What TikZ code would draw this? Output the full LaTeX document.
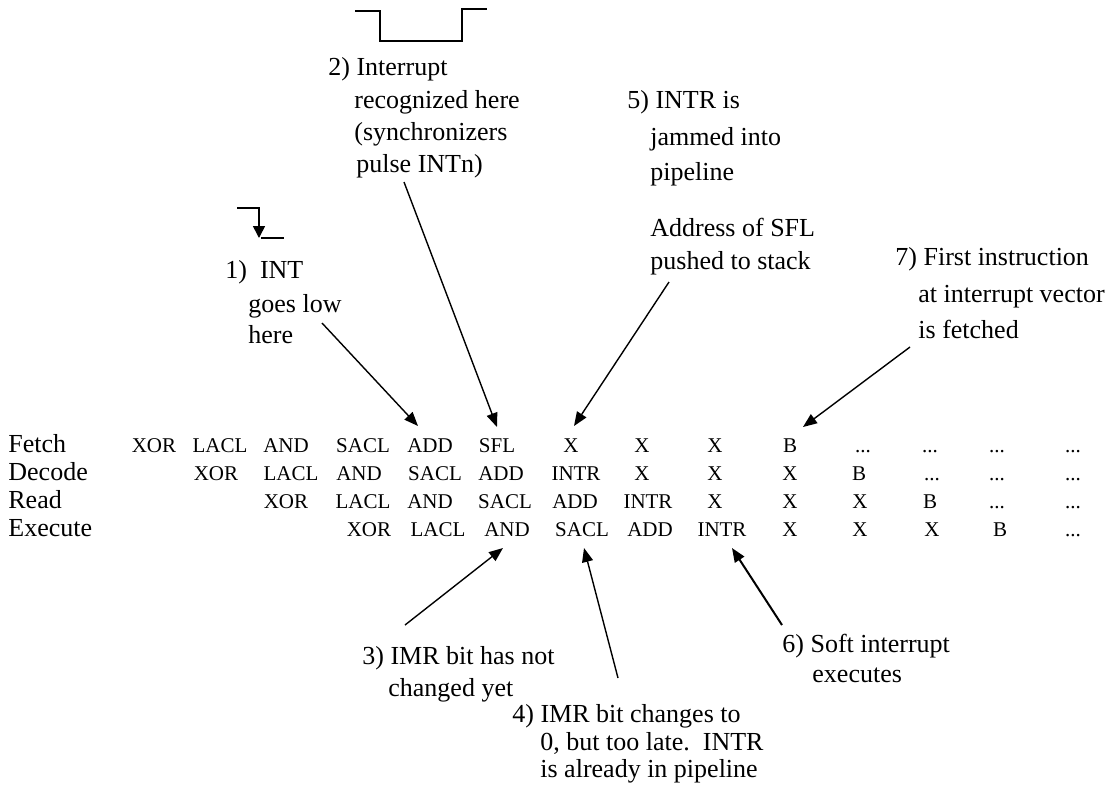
\documentclass[tikz,border=0pt]{standalone}
\usepackage{fontspec}
\setmainfont{Liberation Serif}
\usetikzlibrary{arrows.meta}
\def\tdd{...}
\begin{document}
\begin{tikzpicture}[x=0.5pt,y=-0.5pt,
  ann/.style={anchor=base west,inner sep=0pt,font=\fontsize{13}{16}\selectfont},
  cell/.style={anchor=base,inner sep=0pt,font=\fontsize{10.5}{12}\selectfont},
  rowlab/.style={anchor=base west,inner sep=0pt,font=\fontsize{13}{16}\selectfont},
  pointer/.style={line width=0.7pt,-{Triangle[length=7pt,width=5.5pt]}},
  wave/.style={line width=0.8pt}]
\useasboundingbox (0,0) rectangle (1113,788);

% waveforms
\coordinate (w2a) at (355,11);
\coordinate (w2b) at (380,11);
\coordinate (w2c) at (380,41);
\coordinate (w2d) at (462,41);
\coordinate (w2e) at (462,9);
\coordinate (w2f) at (487,9);
\draw[wave] (w2a) -- (w2b) -- (w2c) -- (w2d) -- (w2e) -- (w2f);

\coordinate (w1a) at (237,208);
\coordinate (w1b) at (259,208);
\coordinate (w1c) at (259,238);
\coordinate (w1d) at (261,238);
\coordinate (w1e) at (284,238);
\draw[wave,-{Triangle[length=6pt,width=6pt]}] (w1a) -- (w1b) -- (w1c);
\draw[wave] (w1d) -- (w1e);

% row labels
\node[rowlab] (lf) at (8,452) {Fetch};
\node[rowlab] (ld) at (8,480) {Decode};
\node[rowlab] (lr) at (8,508) {Read};
\node[rowlab] (le) at (8,536) {Execute};

% table
\foreach \t/\x [count=\i] in {XOR/154,LACL/220,AND/286,SACL/363,ADD/430,SFL/497,X/571,X/642,X/715,B/790,\tdd/863,\tdd/930,\tdd/997,\tdd/1073}
  \node[cell] (f\i) at (\x,452) {\t};
\foreach \t/\x [count=\i] in {XOR/216,LACL/291,AND/359,SACL/435,ADD/501,INTR/576,X/642,X/715,X/790,B/859,\tdd/932,\tdd/997,\tdd/1073}
  \node[cell] (d\i) at (\x,480) {\t};
\foreach \t/\x [count=\i] in {XOR/286,LACL/363,AND/430,SACL/505,ADD/575,INTR/648,X/715,X/790,X/860,B/930,\tdd/997,\tdd/1073}
  \node[cell] (r\i) at (\x,508) {\t};
\foreach \t/\x [count=\i] in {XOR/369,LACL/438,AND/507,SACL/582,ADD/650,INTR/722,X/790,X/860,X/932,B/1000,\tdd/1073}
  \node[cell] (e\i) at (\x,536) {\t};

% annotation 1
\node[ann] (a1a) at (225,278) {1)\ \ INT};
\node[ann] (a1b) at (248,312) {goes low};
\node[ann] (a1c) at (248,343) {here};
\coordinate (p1s) at (322,323);
\coordinate (p1t) at (418,426);
\draw[pointer] (p1s) -- (p1t);

% annotation 2
\node[ann] (a2a) at (328,75) {2) Interrupt};
\node[ann] (a2b) at (354,108) {recognized here};
\node[ann] (a2c) at (354,140) {(synchronizers};
\node[ann] (a2d) at (356,172) {pulse INTn)};
\coordinate (p2s) at (404,182);
\coordinate (p2t) at (497,427);
\draw[pointer] (p2s) -- (p2t);

% annotation 5
\node[ann] (a5a) at (627,108) {5) INTR is};
\node[ann] (a5b) at (650,145) {jammed into};
\node[ann] (a5c) at (650,180) {pipeline};
\node[ann] (a5d) at (650,236) {Address of SFL};
\node[ann] (a5e) at (650,269) {pushed to stack};
\coordinate (p5s) at (669,282);
\coordinate (p5t) at (574,426);
\draw[pointer] (p5s) -- (p5t);

% annotation 7
\node[ann] (a7a) at (895,265) {7) First instruction};
\node[ann] (a7b) at (918,302) {at interrupt vector};
\node[ann] (a7c) at (918,338) {is fetched};
\coordinate (p7s) at (910,347);
\coordinate (p7t) at (803,427);
\draw[pointer] (p7s) -- (p7t);

% annotation 3
\node[ann] (a3a) at (362,664) {3) IMR bit has not};
\node[ann] (a3b) at (388,696) {changed yet};
\coordinate (p3s) at (405,625);
\coordinate (p3t) at (503,548);
\draw[pointer] (p3s) -- (p3t);

% annotation 4
\node[ann] (a4a) at (512,722) {4) IMR bit changes to};
\node[ann] (a4b) at (540,750) {0, but too late.\ \ INTR};
\node[ann] (a4c) at (540,777) {is already in pipeline};
\coordinate (p4s) at (618,678);
\coordinate (p4t) at (584,548);
\draw[pointer] (p4s) -- (p4t);

% annotation 6
\node[ann] (a6a) at (782,652) {6) Soft interrupt};
\node[ann] (a6b) at (812,682) {executes};
\coordinate (p6s) at (782,625);
\coordinate (p6t) at (732,548);
\draw[pointer,line width=1pt] (p6s) -- (p6t);
\end{tikzpicture}
\end{document}
